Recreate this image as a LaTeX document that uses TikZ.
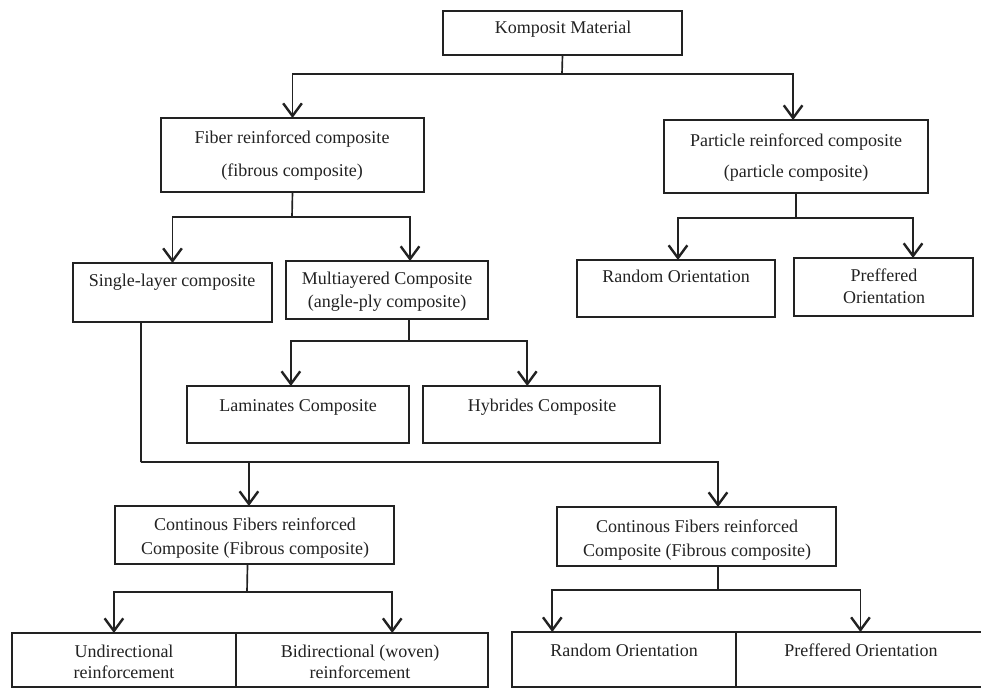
\documentclass[tikz,border=0pt]{standalone}
\usepackage{fontspec}
\setmainfont{Liberation Serif}
\usetikzlibrary{arrows.meta,calc,fit}
\definecolor{ink}{HTML}{222222}
\begin{document}
\begin{tikzpicture}[x=0.75pt,y=-0.75pt,
  bx/.style={draw=ink,line width=1.25pt,inner sep=0pt,outer sep=0pt},
  tx/.style={inner sep=0pt,anchor=base,text=ink,font=\fontsize{13.5pt}{16pt}\selectfont},
  ln/.style={draw=ink,line width=1.25pt},
  arr/.style={draw=ink,line width=1.25pt,-{Straight Barb[length=9.5pt,width=14pt,line width=1.8pt]}}]
\useasboundingbox (0,0) rectangle (981,689);
% boxes
\node[bx,fit={(443,11) (682,55)}] (km) {};
\node[bx,fit={(161,118) (424,192)}] (fib) {};
\node[bx,fit={(664,120) (928,193)}] (par) {};
\node[bx,fit={(73,263) (272,322)}] (sl) {};
\node[bx,fit={(286,261) (488,319)}] (ml) {};
\node[bx,fit={(577,260) (775,317)}] (ro) {};
\node[bx,fit={(794,258) (973,316)}] (pf) {};
\node[bx,fit={(187,386) (409,443)}] (lam) {};
\node[bx,fit={(423,386) (660,443)}] (hyb) {};
\node[bx,fit={(115,506) (394,564)}] (cl) {};
\node[bx,fit={(557,507) (836,566)}] (cr) {};
\node[bx,fit={(12,633) (236,687)}] (ul) {};
\node[bx,fit={(236,633) (488,687)}] (bi) {};
\node[bx,fit={(512,632) (736,687)}] (rr) {};
\node[bx,fit={(736,632) (990,687)}] (pr) {};
% texts
\node[tx] (kmt) at (563,33) {Komposit Material};
\node[tx] (fibt1) at (292,143) {Fiber reinforced composite};
\node[tx] (fibt2) at (292,176) {(fibrous composite)};
\node[tx] (part1) at (796,146) {Particle reinforced composite};
\node[tx] (part2) at (796,177) {(particle composite)};
\node[tx] (slt) at (172,286) {Single-layer composite};
\node[tx] (mlt1) at (387,284) {Multiayered Composite};
\node[tx] (mlt2) at (387,307) {(angle-ply composite)};
\node[tx] (rot) at (676,282) {Random Orientation};
\node[tx] (pft1) at (884,281) {Preffered};
\node[tx] (pft2) at (884,303) {Orientation};
\node[tx] (lamt) at (298,411) {Laminates Composite};
\node[tx] (hybt) at (542,411) {Hybrides Composite};
\node[tx] (clt1) at (255,530) {Continous Fibers reinforced};
\node[tx] (clt2) at (255,554) {Composite (Fibrous composite)};
\node[tx] (crt1) at (697,532) {Continous Fibers reinforced};
\node[tx] (crt2) at (697,556) {Composite (Fibrous composite)};
\node[tx] (ult1) at (124,657) {Undirectional};
\node[tx] (ult2) at (124,678) {reinforcement};
\node[tx] (bit1) at (360,657) {Bidirectional (woven)};
\node[tx] (bit2) at (360,678) {reinforcement};
\node[tx] (rrt) at (624,656) {Random Orientation};
\node[tx] (prt) at (861,656) {Preffered Orientation};
% connectors
\coordinate (j1) at (562,74);
\draw[ln] (km.south) -- (j1);
\draw[arr] (j1) -| (fib.north);
\draw[arr] (j1) -| ($(par.north west)!0.489!(par.north east)$);
%
\coordinate (j2) at (292,217);
\draw[ln] (fib.south) -- (j2);
\draw[arr] (j2) -| (sl.north);
\draw[arr] (j2) -| ($(ml.north west)!0.614!(ml.north east)$);
%
\coordinate (j3) at (796,218);
\draw[ln] (par.south) -- (j3);
\draw[arr] (j3) -| ($(ro.north west)!0.51!(ro.north east)$);
\draw[arr] (j3) -| ($(pf.north west)!0.665!(pf.north east)$);
%
\coordinate (mlb) at ($(ml.south west)!0.609!(ml.south east)$);
\coordinate (j4) at (409,341);
\draw[ln] (mlb) -- (j4);
\draw[arr] (j4) -| ($(lam.north west)!0.468!(lam.north east)$);
\draw[arr] (j4) -| ($(hyb.north west)!0.44!(hyb.north east)$);
%
\coordinate (slb) at ($(sl.south west)!0.342!(sl.south east)$);
\coordinate (crtop) at ($(cr.north west)!0.577!(cr.north east)$);
\coordinate (cltop) at ($(cl.north west)!0.48!(cl.north east)$);
\coordinate (j5) at (141,462);
\draw[ln] (slb) -- (j5);
\draw[arr] (j5) -| (crtop);
\draw[arr] (cltop |- j5) -- (cltop);
%
\coordinate (clb) at ($(cl.south west)!0.475!(cl.south east)$);
\coordinate (j8) at (247,592);
\draw[ln] (clb) -- (j8);
\draw[arr] (j8) -| ($(ul.north west)!0.455!(ul.north east)$);
\draw[arr] (j8) -| ($(bi.north west)!0.62!(bi.north east)$);
%
\coordinate (crb) at ($(cr.south west)!0.577!(cr.south east)$);
\coordinate (j9) at (718,590);
\draw[ln] (crb) -- (j9);
\draw[arr] (j9) -| ($(rr.north west)!0.18!(rr.north east)$);
\draw[arr] (j9) -| ($(pr.north west)!0.49!(pr.north east)$);
\end{tikzpicture}
\end{document}
